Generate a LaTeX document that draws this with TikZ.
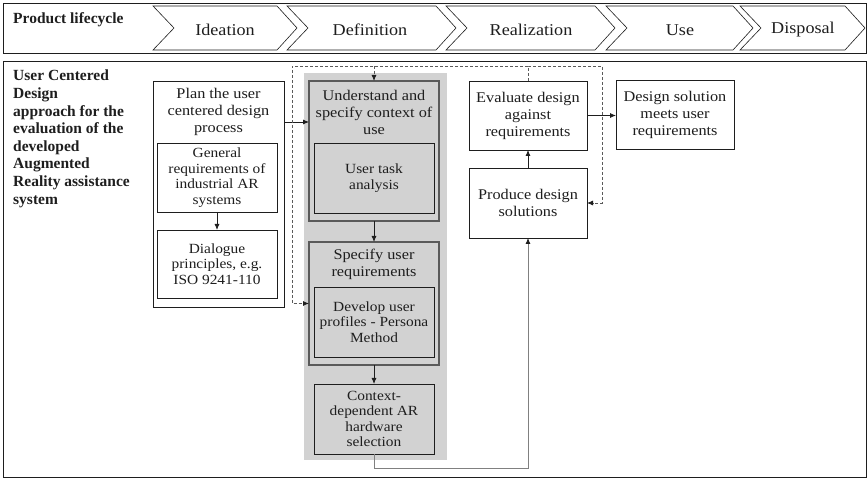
\documentclass[tikz,border=0pt]{standalone}
\usepackage{fontspec}
\setmainfont{Liberation Serif}[FakeStretch=1.1]
\newfontfamily\headfont{Liberation Serif}[BoldFont={Liberation Serif Bold}]
\usetikzlibrary{arrows.meta,fit}
\definecolor{panelgray}{HTML}{D2D2D2}
\definecolor{edgegray}{HTML}{5A5A5A}
\definecolor{inkgray}{HTML}{1E1E1E}

\tikzset{
  frame/.style={draw=inkgray, line width=0.9pt, inner sep=0pt, outer sep=0pt},
  box/.style={draw=inkgray, line width=0.8pt, fill=white, inner sep=0pt, outer sep=0pt},
  graybox/.style={draw=edgegray, line width=1.1pt, fill=panelgray, inner sep=0pt, outer sep=0pt},
  innerbox/.style={draw=inkgray, line width=0.8pt, fill=panelgray, inner sep=0pt, outer sep=0pt},
  chevron/.style={draw=inkgray, line width=0.6pt, fill=white},
  phase/.style={font=\fontsize{16.5}{19}\selectfont, text=inkgray, inner sep=0pt},
  head/.style={font=\headfont\bfseries\fontsize{15.5}{17.6}\selectfont, text=inkgray, align=left, anchor=north west, inner sep=0pt},
  txt/.style={font=\fontsize{14.8}{17}\selectfont, text=inkgray, align=center, inner sep=0pt},
  stxt/.style={font=\fontsize{14}{15.5}\selectfont, text=inkgray, align=center, inner sep=0pt},
  tip/.style={-{Latex[length=6pt,width=5pt,color=inkgray]}},
  arr/.style={tip, line width=0.8pt, draw=inkgray},
  feedback/.style={tip, line width=0.8pt, draw=edgegray, dash pattern=on 3pt off 2pt},
}

\newcommand{\chevronshape}[2]{% left edge, top-right corner
  \draw[chevron] (#1,6) -- (#2,6) -- (#2+20,28) -- (#2,50) -- (#1,50) -- (#1+21,28) -- cycle;
}

\begin{document}
\begin{tikzpicture}[x=1pt,y=-1pt]
\useasboundingbox (0,0) rectangle (868,478);

% ---- product lifecycle strip ----
\node[frame, fit={(3,3) (866,53)}] (lifecycle) {};
\node[head] (lifehead) at (13,12) {Product lifecycle};

\chevronshape{153}{277}
\chevronshape{287}{436}
\chevronshape{446}{595}
\chevronshape{606}{733}
\chevronshape{740}{845}
\node[phase] (ideation)    at (225,30) {Ideation};
\node[phase] (definition)  at (370,30) {Definition};
\node[phase] (realization) at (531,30) {Realization};
\node[phase] (use)         at (680,30) {Use};
\node[phase] (disposal)    at (803,30) {Disposal};

% ---- user centered design panel ----
\node[frame, fit={(3,61) (866,477)}] (ucdframe) {};
\node[head] (ucdhead) at (13,70) {User Centered\\Design\\approach for the\\evaluation of the\\developed\\Augmented\\Reality assistance\\system};

% planning
\node[box, fit={(153,81) (284,307)}] (plan) {};
\node[txt] (plantext) at (218.5,112) {Plan the user\\centered design\\process};
\node[box, fit={(157,143) (277,212)}] (general) {};
\node[stxt] at (general.center) {General\\requirements of\\industrial AR\\systems};
\node[box, fit={(157,230) (277,298)}] (dialogue) {};
\node[stxt] at (dialogue.center) {Dialogue\\principles, e.g.\\ISO 9241-110};

% context and requirements column
\fill[panelgray] (304,73) rectangle (447,460);
\node[graybox, fit={(309,81) (439,221)}] (understand) {};
\node[txt] at (374,112) {Understand and\\specify context of\\use};
\node[innerbox, fit={(314,143) (434,213)}] (usertask) {};
\node[stxt] at (usertask.center) {User task\\analysis};

\node[graybox, fit={(309,242) (439,365)}] (specify) {};
\node[txt] at (374,264) {Specify user\\requirements};
\node[innerbox, fit={(314,287) (434,357)}] (develop) {};
\node[stxt] at (develop.center) {Develop user\\profiles - Persona\\Method};

\node[innerbox, fit={(314,384) (434,454)}] (hardware) {};
\node[stxt] at (hardware.center) {Context-\\dependent AR\\hardware\\selection};

% design and evaluation
\node[box, fit={(469,81) (587,150)}] (evaluate) {};
\node[txt] at (evaluate.center) {Evaluate design\\against\\requirements};
\node[box, fit={(469,168) (587,238)}] (produce) {};
\node[txt] at (produce.center) {Produce design\\solutions};
\node[box, fit={(616,80) (734,149)}] (solution) {};
\node[txt] at (solution.center) {Design solution\\meets user\\requirements};

% ---- connectors ----
\coordinate (planout) at (0,122);
\coordinate (loopleft) at (292,66);
\coordinate (loopright) at (602,66);
\coordinate (hwturn) at (0,468);

\draw[arr] (plan.east |- planout) -- (understand.west |- planout);
\draw[arr] (general.south) -- (dialogue.north);
\draw[arr] (understand.south) -- (specify.north);
\draw[arr] (specify.south) -- (hardware.north);
\draw[arr] (produce.north) -- (evaluate.south);
\draw[arr] (evaluate.east) -- (solution.west |- evaluate.east);
\draw[arr, draw=gray] (hardware.south) -- (hardware.south |- hwturn) -| (produce.south);

% iteration loop
\draw[feedback] (evaluate.north) |- (loopright) |- (produce.east);
\draw[feedback] (evaluate.north |- loopleft) -- (loopleft) |- (specify.west);
\draw[feedback] (understand.north |- loopleft) -- (understand.north);
\end{tikzpicture}
\end{document}
